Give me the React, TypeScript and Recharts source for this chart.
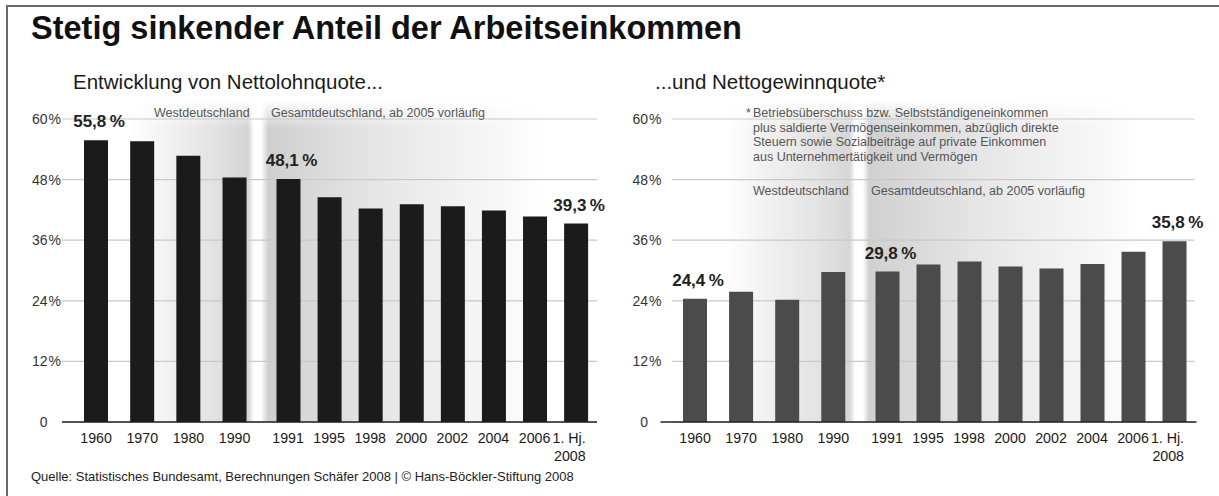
import React from 'react';
import { BarChart, Bar, XAxis, YAxis, CartesianGrid, LabelList } from 'recharts';

const FONT = '"Liberation Sans", Arial, Helvetica, sans-serif';

// ---- data ----
const westYears = ['1960', '1970', '1980', '1990'];
const gesamtYears = ['1991', '1995', '1998', '2000', '2002', '2004', '2006', '1. Hj.\n2008'];
const lohnWest = [55.8, 55.6, 52.7, 48.4];
const lohnGesamt = [48.1, 44.5, 42.3, 43.1, 42.7, 41.9, 40.7, 39.3];
const gewinnWest = [24.4, 25.8, 24.2, 29.7];
const gewinnGesamt = [29.8, 31.2, 31.8, 30.8, 30.4, 31.3, 33.7, 35.8];
const labeledYears = ['1960', '1991', '1. Hj.\n2008'];
const yTicks = [0, 12, 24, 36, 48, 60];
const footnoteLines = [
  'Betriebsüberschuss bzw. Selbstständigeneinkommen',
  'plus saldierte Vermögenseinkommen, abzüglich direkte',
  'Steuern sowie Sozialbeiträge auf private Einkommen',
  'aus Unternehmertätigkeit und Vermögen',
];

type Row = { year: string; value: number };
const makeRows = (years: string[], values: number[]): Row[] =>
  years.map((year, i) => ({ year, value: values[i] }));

const fmt = (v: number) => v.toFixed(1).replace('.', ',') + '\u2009%';

const CHART_TOP = 90;
const CHART_H = 380;
const MARGIN = { top: 29, right: 0, bottom: 0, left: 0 };

const makeYTick = (numEnd: number) => (props: any) => {
  const { y, payload } = props;
  const v = payload.value;
  return (
    <g>
      <text x={numEnd} y={y} dy={5} textAnchor="end" fontSize={14} fill="#333" fontFamily={FONT}>
        {v}
      </text>
      {v !== 0 && (
        <text x={numEnd + 1} y={y} dy={5} textAnchor="start" fontSize={14} fill="#333" fontFamily={FONT}>
          %
        </text>
      )}
    </g>
  );
};

const XTick = (props: any) => {
  const { x, y, payload } = props;
  const parts: string[] = String(payload.value).split('\n');
  const multi = parts.length > 1;
  return (
    <g>
      {parts.map((t, i) => (
        <text
          key={i}
          x={multi ? x + 10 : x}
          y={y + 21 + i * 17.5}
          textAnchor={multi ? 'end' : 'middle'}
          fontSize={14.2}
          fill="#1a1a1a"
          fontFamily={FONT}
        >
          {t}
        </text>
      ))}
    </g>
  );
};

type SegProps = {
  left: number;
  width: number;
  rows: Row[];
  color: string;
  yAxisWidth?: number;
  numEnd?: number;
  padding: { left: number; right: number };
  gridStart?: number;
  gridEnd?: number;
};

function Segment({ left, width, rows, color, yAxisWidth, numEnd, padding, gridStart = 0, gridEnd = 0 }: SegProps) {
  return (
    <div style={{ position: 'absolute', left, top: CHART_TOP, width, height: CHART_H, zIndex: 1 }}>
      <BarChart width={width} height={CHART_H} data={rows} margin={MARGIN} style={{ overflow: 'visible' }}>
        <CartesianGrid
          vertical={false}
          horizontal={(p: any) => (
            <line
              key={p.key ?? `g-${p.index}`}
              x1={p.x1 + gridStart}
              x2={p.x2 - gridEnd}
              y1={p.y1}
              y2={p.y2}
              stroke="#c9c9c9"
              strokeWidth={1.2}
            />
          )}
        />
        <XAxis
          dataKey="year"
          interval={0}
          height={48}
          tickLine={false}
          tickSize={0}
          tickMargin={0}
          padding={padding}
          axisLine={{ stroke: '#222', strokeWidth: 1.6 }}
          tick={<XTick />}
        />
        {yAxisWidth ? (
          <YAxis
            domain={[0, 60]}
            ticks={yTicks}
            width={yAxisWidth}
            axisLine={false}
            tickLine={false}
            tick={makeYTick(numEnd ?? 40)}
          />
        ) : (
          <YAxis domain={[0, 60]} ticks={yTicks} hide />
        )}
        <Bar dataKey="value" fill={color} barSize={24} isAnimationActive={false}>
          <LabelList
            dataKey="value"
            content={(p: any) => {
              const { x, y, width: w, value, index } = p;
              const row = rows[index];
              if (!row || !labeledYears.includes(row.year)) return null;
              return (
                <text
                  x={Number(x) + Number(w) / 2 + 3}
                  y={Number(y) - 13}
                  textAnchor="middle"
                  fontSize={17}
                  fontWeight="bold"
                  fill="#222"
                  fontFamily={FONT}
                >
                  {fmt(Number(value))}
                </text>
              );
            }}
          />
        </Bar>
      </BarChart>
    </div>
  );
}

const shadeLeft =
  'linear-gradient(to right, #ffffff 0px, #ffffff 30px, #efefef 75px, #e2e2e2 115px, #d3d3d3 148px, #ffffff 154px, #ffffff 161px, #cfcfcf 168px, #dadada 220px, #e6e6e6 280px, #efefef 340px, #f7f7f7 400px, #ffffff 445px)';
const shadeRight =
  'linear-gradient(to right, #ffffff 0px, #ffffff 25px, #f0f0f0 70px, #e4e4e4 115px, #d6d6d6 150px, #ffffff 155px, #ffffff 163px, #d0d0d0 169px, #dadada 220px, #e6e6e6 280px, #efefef 340px, #f7f7f7 400px, #ffffff 440px)';
const fadeMask = 'linear-gradient(to bottom, transparent 0px, black 28px)';

export default function App() {
  const textProps = { fontFamily: FONT };
  return (
    <div
      style={{
        position: 'absolute',
        left: 0,
        top: 0,
        width: 1219,
        height: 496,
        background: '#ffffff',
        overflow: 'hidden',
        fontFamily: FONT,
      }}
    >
      <style>{'.recharts-surface{overflow:visible !important;} .recharts-wrapper{overflow:visible !important;}'}</style>
      {/* frame */}
      <div style={{ position: 'absolute', left: 6, top: 5, width: 1213, height: 491, borderTop: '2px solid #6a6a6a', borderLeft: '2px solid #6a6a6a' }} />
      {/* background shading */}
      <div
        style={{
          position: 'absolute', left: 100, top: 100, width: 460, height: 322, background: shadeLeft, zIndex: 0,
          WebkitMaskImage: fadeMask, maskImage: fadeMask,
        } as React.CSSProperties}
      />
      <div
        style={{
          position: 'absolute', left: 700, top: 100, width: 460, height: 322, background: shadeRight, zIndex: 0,
          WebkitMaskImage: fadeMask, maskImage: fadeMask,
        } as React.CSSProperties}
      />

      <Segment left={0} width={262} rows={makeRows(westYears, lohnWest)} color="#1b1b1b" yAxisWidth={62} numEnd={47.5} padding={{ left: 11, right: 4.3 }} />
      <Segment left={262} width={335} rows={makeRows(gesamtYears, lohnGesamt)} color="#1b1b1b" padding={{ left: 5.5, right: 0.8 }} />
      <Segment left={610} width={251} rows={makeRows(westYears, gewinnWest)} color="#4b4b4b" yAxisWidth={50.5} numEnd={38} padding={{ left: 11.5, right: 4.6 }} gridStart={11.5} />
      <Segment left={861} width={335.5} rows={makeRows(gesamtYears, gewinnGesamt)} color="#4b4b4b" padding={{ left: 5.5, right: 2 }} gridEnd={2} />

      <svg width={1219} height={496} style={{ position: 'absolute', left: 0, top: 0, zIndex: 2, pointerEvents: 'none' }}>
        <text x={31} y={39} fontSize={32.5} fontWeight="bold" fill="#111" {...textProps}>
          Stetig sinkender Anteil der Arbeitseinkommen
        </text>
        <text x={73} y={89} fontSize={20.5} fill="#1a1a1a" {...textProps}>
          Entwicklung von Nettolohnquote...
        </text>
        <text x={655} y={89} fontSize={20.5} fill="#1a1a1a" {...textProps}>
          ...und Nettogewinnquote*
        </text>
        <text x={154} y={117} fontSize={12.5} fill="#555" {...textProps}>Westdeutschland</text>
        <text x={271} y={117} fontSize={12.5} fill="#555" {...textProps}>Gesamtdeutschland, ab 2005 vorläufig</text>

        <text x={746} y={117} fontSize={12.5} fill="#555" {...textProps}>*</text>
        {footnoteLines.map((t, i) => (
          <text key={i} x={753} y={117 + i * 14.5} fontSize={12.5} fill="#555" {...textProps}>
            {t}
          </text>
        ))}
        <text x={753} y={195} fontSize={12.5} fill="#555" {...textProps}>Westdeutschland</text>
        <text x={871} y={195} fontSize={12.5} fill="#555" {...textProps}>Gesamtdeutschland, ab 2005 vorläufig</text>

        <text x={31} y={481} fontSize={13} fill="#222" {...textProps}>
          Quelle: Statistisches Bundesamt, Berechnungen Schäfer 2008 | © Hans-Böckler-Stiftung 2008
        </text>
      </svg>
    </div>
  );
}
